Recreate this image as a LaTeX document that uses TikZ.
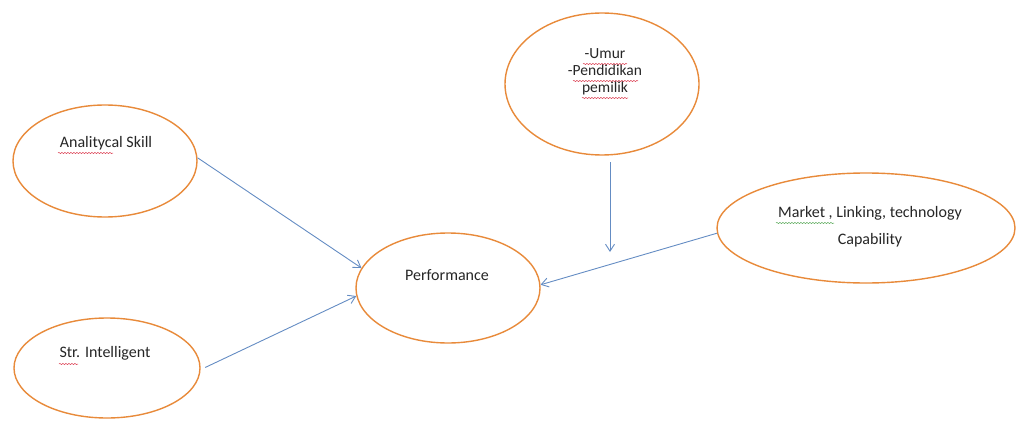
\documentclass[tikz,border=0pt]{standalone}
\usepackage{fontspec}
\setmainfont{Carlito}
\usetikzlibrary{arrows.meta,decorations.pathmorphing,shapes.geometric}
\definecolor{ovalline}{RGB}{232,138,58}
\definecolor{linkline}{RGB}{100,140,195}
\definecolor{spellred}{RGB}{220,60,80}
\definecolor{spellgreen}{RGB}{90,170,90}
\tikzset{
  oval/.style={draw=ovalline, line width=1.4pt, ellipse, fill=white, inner sep=0pt},
  caption/.style={font=\fontsize{16}{17}\selectfont, text=black!85, align=center, inner sep=0pt},
  link/.style={draw=linkline, line width=0.9pt, -{Straight Barb[length=7pt,width=9pt]}},
  squiggle/.style={line width=0.5pt, decorate,
    decoration={snake, amplitude=0.6pt, segment length=3pt}}
}
\begin{document}
\begin{tikzpicture}[x=1pt,y=-1pt]
  \useasboundingbox (0,0) rectangle (1016,425);
  % ovals
  \node[oval, minimum width=184pt, minimum height=112pt] (askill) at (105,161) {};
  \node[caption] (askillT) at (106,143) {Analitycal Skill};

  \node[oval, minimum width=186pt, minimum height=100pt] (sint) at (107,368) {};
  \node[caption] (sintT) at (105,353) {Str. Intelligent};

  \node[oval, minimum width=194pt, minimum height=142pt] (umur) at (602,84) {};
  \node[caption, font=\fontsize{15.5}{17}\selectfont] (umurT) at (605,72)
    {-Umur\\-Pendidikan\\pemilik};

  \node[oval, minimum width=298pt, minimum height=110pt] (mkt) at (866,228) {};
  \node[caption, font=\fontsize{16}{27}\selectfont] (mktT) at (870,227)
    {Market , Linking, technology\\Capability};

  \node[oval, minimum width=184pt, minimum height=110pt] (perf) at (448,288) {};
  \node[caption] (perfT) at (447,275) {Performance};

  \coordinate (umurS) at (610,162);
  \coordinate (umurTip) at (610,252);

  % spell-check underlines
  \draw[spellred, squiggle] (58,153) -- (113,153);
  \draw[spellred, squiggle] (59,364) -- (78,364);
  \draw[spellred, squiggle] (583,64) -- (627,64);
  \draw[spellred, squiggle] (573,81) -- (638,81);
  \draw[spellred, squiggle] (582,98) -- (628,98);
  \draw[spellgreen, squiggle] (776,223) -- (834,223);

  % connectors
  \draw[link] (askill.2.5) -- (perf.167.6);
  \draw[link, shorten <=5pt] (sint.-1.2) -- (perf.185.6);
  \draw[link] (umurS) -- (umurTip);
  \draw[link] (mkt.182.7) -- (perf.2);
\end{tikzpicture}
\end{document}
